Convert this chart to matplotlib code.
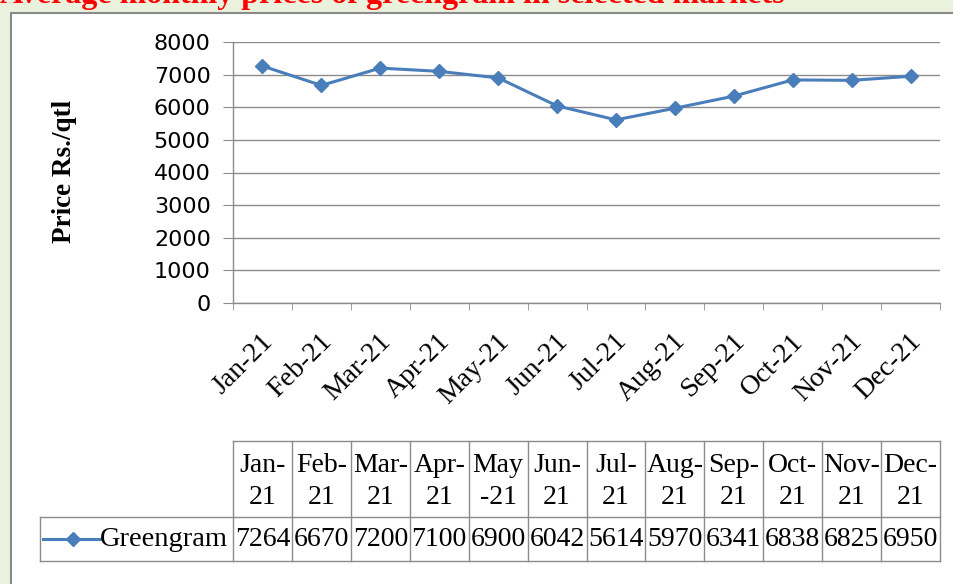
import matplotlib
matplotlib.use('Agg')
import matplotlib.pyplot as plt
from matplotlib.patches import Rectangle
from matplotlib.lines import Line2D
from matplotlib.transforms import blended_transform_factory, ScaledTranslation

# data
months = ['Jan-21', 'Feb-21', 'Mar-21', 'Apr-21', 'May-21', 'Jun-21',
          'Jul-21', 'Aug-21', 'Sep-21', 'Oct-21', 'Nov-21', 'Dec-21']
head_top = ['Jan-', 'Feb-', 'Mar-', 'Apr-', 'May', 'Jun-',
            'Jul-', 'Aug-', 'Sep-', 'Oct-', 'Nov-', 'Dec-']
head_bot = ['21', '21', '21', '21', '-21', '21',
            '21', '21', '21', '21', '21', '21']
prices = [7264, 6670, 7200, 7100, 6900, 6042, 5614, 5970, 6341, 6838, 6825, 6950]
series = 'Greengram'
title = 'Average monthly prices of greengram in selected markets'
ylabel = 'Price Rs./qtl'

W, H = 954, 584
BG = '#EAF1DD'
GRID = '#8c8c8c'
BLUE = '#4A7EBB'
SERIF = 'Liberation Serif'


def fy(py):
    return 1 - py / H


fig = plt.figure(figsize=(W / 100, H / 100), dpi=100)
fig.patch.set_facecolor(BG)

# white chart frame
frame = Rectangle((11 / W, -0.05), 1.1, fy(13) + 0.05, transform=fig.transFigure,
                  facecolor='white', edgecolor='#8a8a8a', lw=1.5, zorder=-5)
fig.add_artist(frame)

# title, mostly cut off at the top as in the source image
fig.text(0.0, fy(3), title, color='red', fontweight='bold', family=SERIF,
         fontsize=23, ha='left', va='baseline')

ax = fig.add_axes([233 / W, fy(303), (940 - 233) / W, (303 - 42) / H])
ax.set_facecolor('none')
x = list(range(len(months)))
ax.plot(x, prices, color=BLUE, lw=2.2, marker='D', ms=7, zorder=3)

ax.set_xlim(-0.5, len(months) - 0.5)
ax.set_ylim(0, 8000)
ax.set_yticks(range(0, 8001, 1000))
ax.grid(axis='y', color=GRID, lw=1)
ax.set_axisbelow(True)
for s in ['top', 'right']:
    ax.spines[s].set_visible(False)
for s in ['left', 'bottom']:
    ax.spines[s].set_color(GRID)
    ax.spines[s].set_linewidth(1)

ax.tick_params(axis='y', length=7, color=GRID, pad=9, labelsize=16)
ax.set_xticks(x)
ax.set_xticklabels(months, rotation=45, ha='right', va='center',
                   rotation_mode='anchor', family=SERIF, fontsize=20)
ax.tick_params(axis='x', which='major', length=0, pad=25)
ax.set_xticks([i - 0.5 for i in range(len(months) + 1)], minor=True)
ax.tick_params(axis='x', which='minor', length=5, color=GRID)
shift = ScaledTranslation(5 / 72, 0, fig.dpi_scale_trans)
for lbl in ax.get_xticklabels():
    lbl.set_transform(lbl.get_transform() + shift)

fig.text(65 / W, fy(171), ylabel, rotation=90, family=SERIF, fontweight='bold',
         fontsize=19.5, ha='center', va='center')

# data table below the chart
tr = blended_transform_factory(ax.transData, fig.transFigure)
col_w = (940 - 233) / len(months)
x_leg = -0.5 - (233 - 40) / col_w
x_end = len(months) - 0.5
y_top, y_mid, y_bot = fy(441), fy(517), fy(561)
kw = dict(color=GRID, lw=1, transform=tr)
fig.add_artist(Line2D([-0.5, x_end], [y_top, y_top], **kw))
fig.add_artist(Line2D([x_leg, x_end], [y_mid, y_mid], **kw))
fig.add_artist(Line2D([x_leg, x_end], [y_bot, y_bot], **kw))
fig.add_artist(Line2D([x_leg, x_leg], [y_bot, y_mid], **kw))
for i in range(len(months) + 1):
    fig.add_artist(Line2D([i - 0.5, i - 0.5], [y_bot, y_top], **kw))

for i in x:
    fig.text(i, fy(466), head_top[i], transform=tr, family=SERIF, fontsize=20,
             ha='center', va='center')
    fig.text(i, fy(497), head_bot[i], transform=tr, family=SERIF, fontsize=20,
             ha='center', va='center')
    fig.text(i, fy(540), str(prices[i]), transform=tr, family=SERIF, fontsize=20,
             ha='center', va='center')

# legend key in the table
fig.add_artist(Line2D([43 / W, 100 / W], [fy(539), fy(539)], color=BLUE, lw=2.2,
                      transform=fig.transFigure))
fig.add_artist(Line2D([73 / W], [fy(539)], color=BLUE, marker='D', ms=7,
                      transform=fig.transFigure))
fig.text(100 / W, fy(540), series, family=SERIF, fontsize=20.5, ha='left', va='center')

fig.savefig('out.png', dpi=100, facecolor=fig.get_facecolor())
